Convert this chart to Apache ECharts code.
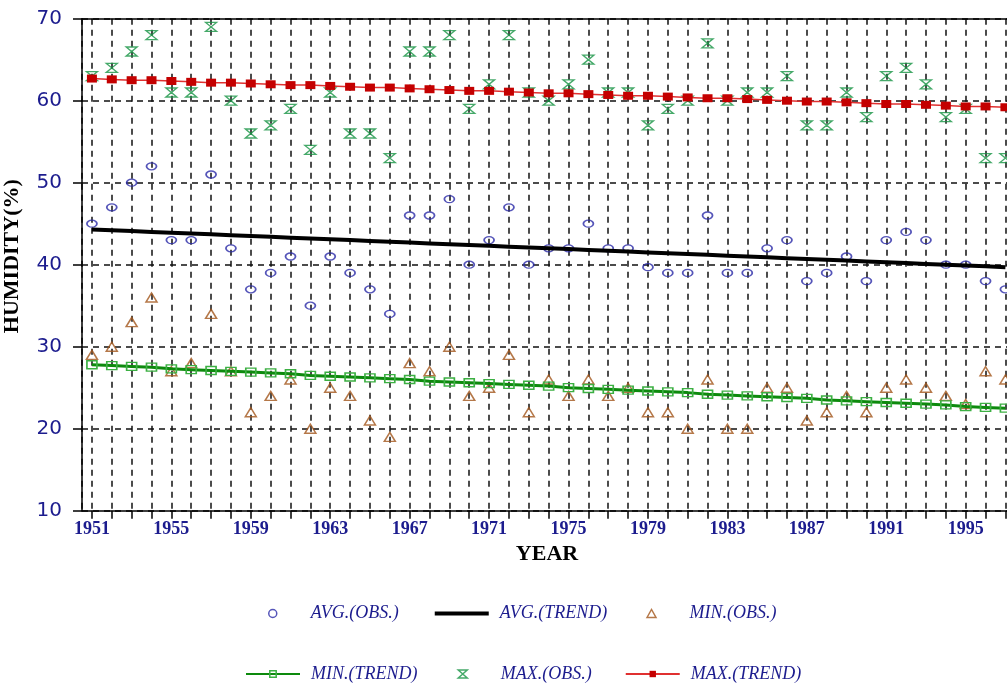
<!DOCTYPE html>
<html><head><meta charset="utf-8">
<script src="https://cdn.jsdelivr.net/npm/echarts@6/dist/echarts.min.js"></script>
<style>html,body{margin:0;padding:0;background:#fff}#c{width:1007px;height:687px}</style>
</head><body><div id="c"></div>
<script>
const years = [1951,1952,1953,1954,1955,1956,1957,1958,1959,1960,
  1961,1962,1963,1964,1965,1966,1967,1968,1969,1970,
  1971,1972,1973,1974,1975,1976,1977,1978,1979,1980,
  1981,1982,1983,1984,1985,1986,1987,1988,1989,1990,
  1991,1992,1993,1994,1995,1996,1997];
const avgObs = [45,47,50,52,43,43,51,42,37,39,
  41,35,41,39,37,34,46,46,48,40,
  43,47,40,42,42,45,42,42,39.7,39,
  39,46,39,39,42,43,38,39,41,38,
  43,44,43,40,40,38,37];
const avgTrend = [44.3,44.2,44.1,44.0,43.9,43.8,43.7,43.6,43.5,43.4,
  43.3,43.2,43.1,43.0,42.9,42.8,42.7,42.6,42.5,42.4,
  42.3,42.2,42.1,42.0,41.9,41.8,41.7,41.6,41.5,41.4,
  41.3,41.2,41.1,41.0,40.9,40.8,40.7,40.6,40.5,40.4,
  40.3,40.2,40.1,40.0,39.9,39.8,39.7];
const minObs = [29,30,33,36,27,28,34,27,22,24,
  26,20,25,24,21,19,28,27,30,24,
  25,29,22,26,24,26,24,25,22,22,
  20,26,20,20,25,25,21,22,24,22,
  25,26,25,24,23,27,26];
const minTrend = [27.8,27.7,27.6,27.5,27.3,27.2,27.1,27.0,26.9,26.8,
  26.7,26.5,26.4,26.3,26.2,26.1,26.0,25.8,25.7,25.6,
  25.5,25.4,25.3,25.2,25.0,24.9,24.8,24.7,24.6,24.5,
  24.4,24.2,24.1,24.0,23.9,23.8,23.7,23.5,23.4,23.3,
  23.2,23.1,23.0,22.9,22.7,22.6,22.5];
const maxObs = [63,64,66,68,61,61,69,60,56,57,
  59,54,61,56,56,53,66,66,68,59,
  62,68,61,60,62,65,61,61,57,59,
  60,67,60,61,61,63,57,57,61,58,
  63,64,62,58,59,53,53];
const maxTrend = [62.7,62.6,62.5,62.5,62.4,62.3,62.2,62.2,62.1,62.0,
  61.9,61.9,61.8,61.7,61.6,61.6,61.5,61.4,61.3,61.2,
  61.2,61.1,61.0,60.9,60.9,60.8,60.7,60.6,60.6,60.5,
  60.4,60.3,60.3,60.2,60.1,60.0,59.9,59.9,59.8,59.7,
  59.6,59.6,59.5,59.4,59.3,59.3,59.2];
const yTicks = [10,20,30,40,50,60,70];
const labelEvery = 4;
const firstLabelYear = 1951;

const NAVY = '#1c1c8e';
const X_MIN = 1950.5, X_MAX = 1997.08;
const pairs = arr => years.map((y, i) => [y, arr[i]]);
const hourglass = 'path://M0,0L10,0L5,4.5L10,9L0,9L5,4.5Z';
const hourglassIcon = 'path://M0,0M54,8M22.5,0L31.5,0L27,4L31.5,8L22.5,8L27,4Z';
const triangleIcon = 'path://M0,0M54,8M22.5,8L27,0L31.5,8Z';

const chart = echarts.init(document.getElementById('c'));
const legendCommon = {
  orient: 'horizontal', itemWidth: 54, itemHeight: 8, itemGap: 0, padding: 0,
  selectedMode: false,
  itemStyle: { borderWidth: 1.5 },
  textStyle: { fontFamily: 'Liberation Serif', fontStyle: 'italic', fontSize: 18, color: NAVY,
    width: 124, lineHeight: 20, padding: [0, 0, 0, 6] }
};
const gridLine = { show: true, showMaxLine: false, lineStyle: { color: '#111', width: 1.5, type: [6, 5] } };
chart.setOption({
  animation: false,
  backgroundColor: '#fff',
  grid: { left: 82, right: 0, top: 18.7, bottom: 176.3, outerBoundsMode: 'none', containLabel: false },
  legend: [
    Object.assign({}, legendCommon, { left: 268, top: 603.5, data: ['AVG.(OBS.)', { name: 'AVG.(TREND)', icon: 'path://M0,0H54V4H0Z' }, { name: 'MIN.(OBS.)', icon: triangleIcon }] }),
    Object.assign({}, legendCommon, { left: 245, top: 664, data: ['MIN.(TREND)', { name: 'MAX.(OBS.)', icon: hourglassIcon }, 'MAX.(TREND)'] })
  ],
  xAxis: [{
    type: 'value', min: X_MIN, max: X_MAX, splitNumber: 47, minInterval: 1, maxInterval: 1,
    name: 'YEAR', nameLocation: 'middle', nameGap: 31,
    nameTextStyle: { fontFamily: 'Liberation Serif', fontWeight: 'bold', fontSize: 22, color: '#000', padding: [0, 0, 0, 5] },
    axisLine: { show: true, lineStyle: { color: '#000', width: 1.5 } },
    axisTick: { show: true, length: 8, lineStyle: { color: '#000', width: 1.5 } },
    axisLabel: {
      margin: 10, fontFamily: 'Liberation Serif', fontWeight: 'bold', fontSize: 18, color: NAVY,
      showMinLabel: false, showMaxLabel: false,
      formatter: v => (Number.isInteger(v) && (v - firstLabelYear) % labelEvery === 0) ? String(v) : ''
    },
    splitLine: gridLine
  }, {
    type: 'value', position: 'top', min: X_MIN, max: X_MAX,
    axisLine: { show: true, lineStyle: { color: '#000', width: 1.5 } },
    axisTick: { show: false }, axisLabel: { show: false }, splitLine: { show: false }
  }],
  yAxis: {
    type: 'value', min: yTicks[0], max: yTicks[yTicks.length - 1], interval: 10,
    name: 'HUMIDITY(%)', nameLocation: 'middle', nameGap: 59,
    nameTextStyle: { fontFamily: 'Liberation Serif', fontWeight: 'bold', fontSize: 22, color: '#000', padding: [0, 0, 0, 17] },
    axisLine: { show: true, lineStyle: { color: '#000', width: 1.5 } },
    axisTick: { show: true, length: 9, lineStyle: { color: '#000', width: 1.5 } },
    axisLabel: { margin: 20, fontFamily: 'DejaVu Sans', fontSize: 20, color: NAVY },
    splitLine: { show: true, lineStyle: { color: '#111', width: 1.5, type: [6, 5] } }
  },
  series: [
    { name: 'AVG.(OBS.)', type: 'scatter', data: pairs(avgObs), symbol: 'circle', symbolSize: [10, 7],
      itemStyle: { color: 'rgba(255,255,255,0)', borderColor: '#2a2aa8', borderWidth: 1.5 } },
    { name: 'AVG.(TREND)', type: 'line', data: pairs(avgTrend), symbol: 'none', showSymbol: false,
      lineStyle: { color: '#000', width: 4 }, itemStyle: { color: '#000' } },
    { name: 'MIN.(OBS.)', type: 'scatter', data: pairs(minObs), symbol: 'triangle', symbolSize: [11, 9],
      itemStyle: { color: 'rgba(255,255,255,0)', borderColor: '#a3561c', borderWidth: 1.5 } },
    { name: 'MIN.(TREND)', type: 'line', data: pairs(minTrend), symbol: 'rect', symbolSize: [10, 8],
      lineStyle: { color: '#0d8a0d', width: 3 },
      itemStyle: { color: 'rgba(255,255,255,0)', borderColor: '#3cb043', borderWidth: 1.5 } },
    { name: 'MAX.(OBS.)', type: 'scatter', data: pairs(maxObs), symbol: hourglass, symbolSize: [11, 9],
      itemStyle: { color: 'rgba(255,255,255,0)', borderColor: '#169443', borderWidth: 1.4 } },
    { name: 'MAX.(TREND)', type: 'line', data: pairs(maxTrend), symbol: 'rect', symbolSize: [10, 8],
      lineStyle: { color: '#e03030', width: 1.5 }, itemStyle: { color: '#c40000' } }
  ]
});
</script></body></html>
